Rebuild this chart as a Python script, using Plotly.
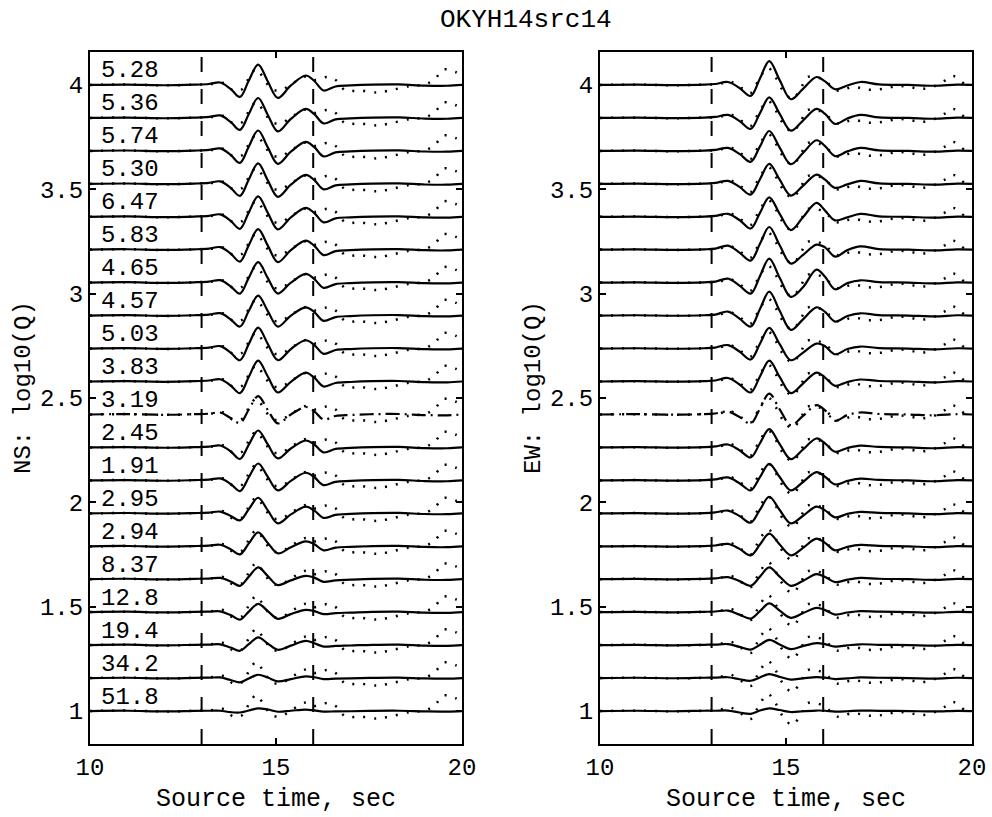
import plotly.graph_objects as go

# ---------------- data ----------------
LOGQ = [4.000, 3.842, 3.684, 3.526, 3.368, 3.211, 3.053, 2.895, 2.737, 2.579,
        2.421, 2.263, 2.105, 1.947, 1.789, 1.632, 1.474, 1.316, 1.158, 1.000]

MISFIT_NS = ["5.28", "5.36", "5.74", "5.30", "6.47", "5.83", "4.65", "4.57", "5.03", "3.83",
             "3.19", "2.45", "1.91", "2.95", "2.94", "8.37", "12.8", "19.4", "34.2", "51.8"]

BEST_ROW = 10          # trace drawn dash-dot
WINDOW = [13, 16]      # time window markers, sec

XTICKS = [10, 15, 20]
YTICKS = [1, 1.5, 2, 2.5, 3, 3.5, 4]
YTICKTEXT = ["1", "1.5", "2", "2.5", "3", "3.5", "4"]

# synthetic waveforms (amplitude, arbitrary units) at key times
T_SYN_NS = [10.0, 11.0, 12.0, 12.8, 13.2, 13.5, 13.78, 14.03, 14.27, 14.52, 14.78, 15.05,
            15.4, 15.8, 16.03, 16.28, 16.6, 17.0, 17.6, 18.3, 19.0, 19.6, 20.0]
SYN_NS = [
    [0, 0.4, -0.3, 0.3, 1.0, 2.5, -4.0, -12.0, 4.5, 20.5, 3.5, -13.0, -0.5, 9.5, 4.0, -5.5, -1.5, -0.5, 0.3, 0.5, -0.6, -0.8, 0.0],
    [0, 0.4, -0.3, 0.3, 1.0, 2.5, -4.0, -12.0, 4.0, 20.0, 3.0, -13.5, -1.0, 9.0, 3.8, -5.5, -1.5, -0.5, 0.3, 0.5, -0.6, -0.8, 0.0],
    [0, 0.4, -0.3, 0.3, 1.0, 2.5, -4.0, -12.0, 4.5, 20.5, 3.5, -13.0, -0.8, 9.0, 3.8, -5.5, -1.5, -0.5, 0.3, 0.5, -0.6, -0.8, 0.0],
    [0, 0.4, -0.3, 0.3, 1.0, 2.5, -4.0, -12.0, 4.5, 20.5, 3.5, -13.0, -0.8, 9.0, 3.8, -5.5, -1.5, -0.5, 0.3, 0.5, -0.6, -0.8, 0.0],
    [0, 0.4, -0.3, 0.3, 1.0, 2.5, -4.0, -12.0, 4.5, 20.5, 4.0, -12.5, -0.5, 9.0, 3.8, -5.5, -1.5, -0.5, 0.3, 0.5, -0.6, -0.8, 0.0],
    [0, 0.4, -0.3, 0.3, 1.0, 2.5, -4.0, -12.0, 4.5, 20.5, 4.0, -12.5, -0.5, 9.0, 3.8, -5.5, -1.5, -0.5, 0.3, 0.5, -0.6, -0.8, 0.0],
    [0, 0.4, -0.3, 0.3, 1.0, 2.4, -3.8, -11.0, 5.0, 20.5, 4.5, -11.0, 0.0, 8.7, 3.6, -5.3, -1.5, -0.5, 0.3, 0.5, -0.6, -0.8, 0.0],
    [0, 0.4, -0.3, 0.3, 1.0, 2.4, -3.8, -11.0, 4.8, 20.0, 4.5, -11.0, 0.0, 8.3, 3.5, -5.3, -1.5, -0.5, 0.3, 0.5, -0.6, -0.8, 0.0],
    [0, 0.4, -0.3, 0.3, 1.0, 2.4, -4.0, -11.7, 4.7, 21.0, 4.6, -11.7, -0.5, 8.3, 3.5, -5.3, -1.5, -0.5, 0.3, 0.5, -0.6, -0.8, 0.0],
    [0, 0.4, -0.3, 0.3, 1.0, 2.3, -4.0, -11.7, 4.7, 21.0, 5.0, -11.0, -0.3, 9.0, 3.8, -5.0, -1.5, -0.5, 0.3, 0.5, -0.6, -0.8, 0.0],
    [0, 0.4, -0.3, 0.3, 0.8, 2.0, -3.5, -8.5, 5.0, 18.5, 4.5, -9.0, 0.0, 7.5, 3.2, -5.0, -1.5, -0.5, 0.3, 0.5, -0.6, -0.8, 0.0],
    [0, 0.4, -0.3, 0.3, 0.8, 2.0, -3.8, -11.5, 2.8, 17.0, 3.0, -11.0, -1.0, 7.0, 3.0, -5.0, -1.5, -0.5, 0.3, 0.5, -0.6, -0.8, 0.0],
    [0, 0.4, -0.3, 0.3, 0.8, 2.0, -3.5, -10.7, 3.2, 17.0, 3.5, -10.0, -0.5, 7.7, 3.2, -4.7, -1.4, -0.5, 0.3, 0.5, -0.6, -0.8, 0.0],
    [0, 0.4, -0.3, 0.3, 0.8, 1.8, -2.5, -7.0, 4.3, 15.7, 3.0, -10.0, -1.0, 6.7, 2.8, -4.5, -1.4, -0.5, 0.3, 0.5, -0.6, -0.8, 0.0],
    [0, 0.4, -0.3, 0.3, 0.8, 1.6, -2.8, -8.0, 3.0, 14.0, 3.5, -7.0, -0.8, 5.0, 2.2, -4.0, -1.3, -0.5, 0.3, 0.5, -0.6, -0.8, 0.0],
    [0, 0.4, -0.3, 0.3, 0.6, 1.2, -2.3, -6.7, 2.5, 11.7, 3.0, -6.0, -1.2, 3.3, 1.5, -2.7, -1.2, -0.5, 0.3, 0.5, -0.6, -0.8, 0.0],
    [0, 0.4, -0.3, 0.3, 0.5, 0.8, -3.0, -7.5, 0.5, 8.3, 1.0, -6.7, -2.0, 2.3, 1.0, -2.0, -1.0, -0.5, 0.3, 0.5, -0.6, -0.8, 0.0],
    [0, 0.4, -0.3, 0.3, 0.5, 0.8, -2.5, -5.7, 1.0, 7.7, 1.5, -4.7, -0.5, 4.3, 1.8, -1.5, -0.8, -0.4, 0.3, 0.5, -0.5, -0.7, 0.0],
    [0, 0.3, -0.3, 0.2, 0.4, 0.6, -2.0, -4.3, -0.5, 3.3, 0.5, -3.3, -1.0, 1.7, 0.8, -1.0, -0.6, -0.3, 0.2, 0.4, -0.4, -0.6, 0.0],
    [0, 0.3, -0.3, 0.2, 0.3, 0.3, -1.2, -1.5, 0.5, 2.7, 1.5, -0.7, 0.3, 1.5, 0.6, -0.5, -0.4, -0.2, 0.2, 0.3, -0.3, -0.5, 0.0],
]

T_SYN_EW = [10.0, 11.0, 12.0, 12.8, 13.1, 13.44, 13.75, 14.05, 14.3, 14.55, 14.83, 15.13,
            15.45, 15.82, 16.05, 16.32, 16.65, 17.0, 17.5, 18.3, 19.0, 19.6, 20.0]
SYN_EW = [
    [0, 0.3, -0.2, 0.3, 1.0, 3.0, -3.0, -11.0, 6.5, 24.0, 4.9, -14.3, -4.2, 8.0, 3.6, -4.3, -0.5, 3.0, 0.5, 0.0, -0.8, 0.3, 0.0],
    [0, 0.3, -0.2, 0.3, 1.0, 3.0, -3.0, -11.0, 4.8, 20.7, 4.0, -12.7, -2.9, 9.0, 4.0, -6.0, -0.5, 3.0, 0.5, 0.0, -0.8, 0.3, 0.0],
    [0, 0.3, -0.2, 0.3, 1.0, 3.0, -3.0, -11.0, 4.5, 20.0, 3.3, -13.3, -2.3, 10.7, 4.8, -5.3, -0.5, 3.0, 0.5, 0.0, -0.8, 0.3, 0.0],
    [0, 0.3, -0.2, 0.3, 1.0, 3.0, -3.0, -10.7, 4.7, 20.0, 4.2, -11.7, -2.2, 9.3, 4.2, -4.0, -0.5, 3.0, 0.5, 0.0, -0.8, 0.3, 0.0],
    [0, 0.3, -0.2, 0.3, 1.0, 3.0, -3.2, -11.7, 4.0, 19.5, 3.0, -13.3, -0.7, 14.0, 6.3, -3.5, -0.5, 3.0, 0.5, 0.0, -0.8, 0.3, 0.0],
    [0, 0.3, -0.2, 0.3, 1.0, 4.0, -3.0, -11.0, 5.8, 22.7, 4.4, -14.0, -5.5, 5.0, 2.3, -7.0, -0.5, 3.3, 0.5, 0.0, -0.8, 0.3, 0.0],
    [0, 0.3, -0.2, 0.3, 1.0, 4.0, -3.0, -11.0, 6.5, 24.0, 4.9, -14.3, -5.0, 13.0, 5.8, -6.7, -0.5, 2.3, 0.5, 0.0, -0.8, 0.3, 0.0],
    [0, 0.3, -0.2, 0.3, 1.0, 4.0, -3.0, -11.0, 6.5, 24.0, 4.9, -14.3, -4.0, 8.3, 3.7, -6.0, -0.5, 2.3, 0.5, 0.0, -0.8, 0.3, 0.0],
    [0, 0.3, -0.2, 0.3, 1.0, 3.5, -3.0, -11.0, 4.8, 20.7, 4.5, -11.7, -4.3, 5.0, 2.3, -5.7, -0.5, 2.0, 0.5, 0.0, -0.8, 0.3, 0.0],
    [0, 0.3, -0.2, 0.3, 1.0, 3.5, -3.0, -11.0, 5.0, 21.0, 4.6, -11.7, -2.3, 9.0, 4.0, -4.3, -0.5, 2.0, 0.5, 0.0, -0.8, 0.3, 0.0],
    [0, 0.3, -0.2, 0.3, 1.0, 3.0, -2.5, -9.0, 6.0, 21.0, 5.2, -10.7, -1.7, 9.3, 4.2, -6.3, -0.5, 2.0, 0.5, 0.0, -0.8, 0.3, 0.0],
    [0, 0.3, -0.2, 0.3, 1.0, 3.0, -2.8, -10.0, 4.2, 18.3, 3.3, -11.7, -2.3, 9.0, 4.0, -4.3, -0.5, 1.8, 0.5, 0.0, -0.8, 0.3, 0.0],
    [0, 0.3, -0.2, 0.3, 1.0, 3.0, -2.8, -10.0, 3.4, 16.7, 3.4, -10.0, -1.8, 8.3, 3.7, -4.0, -0.5, 1.8, 0.5, 0.0, -0.8, 0.3, 0.0],
    [0, 0.3, -0.2, 0.3, 1.0, 2.8, -2.6, -9.3, 3.7, 16.7, 3.4, -10.0, -2.6, 6.7, 3.0, -4.0, -0.5, 1.5, 0.5, 0.0, -0.8, 0.3, 0.0],
    [0, 0.3, -0.2, 0.3, 0.9, 2.5, -2.5, -9.0, 1.9, 12.7, 1.9, -9.0, -1.7, 7.7, 3.5, -4.0, -0.5, 1.5, 0.5, 0.0, -0.8, 0.3, 0.0],
    [0, 0.3, -0.2, 0.3, 0.8, 2.0, -2.0, -6.7, 2.5, 11.7, 2.5, -6.7, -1.8, 5.0, 2.2, -3.0, -0.5, 1.2, 0.4, 0.0, -0.7, 0.3, 0.0],
    [0, 0.3, -0.2, 0.3, 0.6, 1.5, -2.5, -6.5, 1.0, 8.7, 1.5, -5.7, -1.2, 4.3, 2.0, -2.5, -0.4, 1.0, 0.4, 0.0, -0.6, 0.3, 0.0],
    [0, 0.3, -0.2, 0.3, 0.5, 1.0, -1.8, -4.5, 0.3, 5.3, 0.7, -4.0, -1.0, 2.0, 1.0, -1.5, -0.3, 0.8, 0.3, 0.0, -0.5, 0.3, 0.0],
    [0, 0.3, -0.2, 0.3, 0.4, 0.8, -1.2, -2.7, 0.6, 4.0, 1.2, -1.5, -0.3, 1.0, 0.5, -1.0, -0.3, 0.6, 0.3, 0.0, -0.5, 0.3, 0.0],
    [0, 0.3, -0.2, 0.3, 0.3, 0.5, -1.5, -2.8, 0.5, 2.7, 1.0, -1.0, -0.2, 0.5, 0.3, -0.5, -0.2, 0.4, 0.2, 0.0, -0.4, 0.2, 0.0],
]

# observed waveforms (same for every row of a panel)
T_OBS_NS = [10.0, 11.0, 12.0, 12.8, 13.3, 13.6, 13.85, 14.1, 14.3, 14.47, 14.63, 14.9, 15.15, 15.4,
            15.8, 16.05, 16.38, 16.62, 16.87, 17.25, 17.7, 18.0, 18.6, 19.0, 19.27, 19.5, 19.82, 20.0]
OBS_NS = [0, 0.4, -0.4, 0.3, 1.0, 2.0, -5.5, -4.0, 9.0, 16.0, 9.0, -4.5, -5.0, 0.5,
          8.5, 5.0, 8.0, 4.5, -5.7, -5.5, -7.5, -6.0, -1.0, 0.5, 6.0, 15.5, 13.0, 9.0]

T_OBS_EW = [10.0, 11.0, 12.0, 12.8, 13.2, 13.5, 13.8, 14.05, 14.3, 14.52, 14.72, 14.92, 15.17, 15.4,
            15.57, 15.84, 16.05, 16.4, 16.8, 17.2, 17.6, 18.0, 18.35, 18.65, 19.0, 19.27, 19.5, 19.81, 20.0]
OBS_EW = [0, 0.3, -0.3, 0.3, 1.0, 3.5, -3.0, -8.0, 7.7, 17.0, 7.7, -5.5, -14.0, -3.0,
          7.7, 7.7, 4.0, -5.7, -2.0, -4.7, -4.0, -1.0, -2.3, -4.0, -1.0, 4.3, 9.0, 1.0, -0.5]

# ---------------- styling ----------------
GAIN = 1 / 209.3          # y-axis units per amplitude unit
YRANGE = [0.842, 4.158]
XRANGE = [10, 20]
FONT = "Liberation Mono"
W, H = 992, 817

fig = go.Figure()

panels = [
    dict(xa="x", ya="y", tsyn=T_SYN_NS, syn=SYN_NS, tobs=T_OBS_NS, obs=OBS_NS),
    dict(xa="x2", ya="y2", tsyn=T_SYN_EW, syn=SYN_EW, tobs=T_OBS_EW, obs=OBS_EW),
]

for p in panels:
    for wx in WINDOW:
        fig.add_trace(go.Scatter(x=[wx, wx], y=[YRANGE[0], YRANGE[1]], mode="lines",
                                 line=dict(color="black", width=2, dash="15px,17px"),
                                 xaxis=p["xa"], yaxis=p["ya"], showlegend=False, hoverinfo="skip"))
    for i, q in enumerate(LOGQ):
        fig.add_trace(go.Scatter(x=p["tobs"], y=[q + a * GAIN for a in p["obs"]], mode="lines",
                                 line=dict(color="black", width=2.5, dash="2px,9px", shape="spline", smoothing=1),
                                 xaxis=p["xa"], yaxis=p["ya"], showlegend=False, hoverinfo="skip"))
        dash = "14px,5px,2px,5px" if i == BEST_ROW else "solid"
        fig.add_trace(go.Scatter(x=p["tsyn"], y=[q + a * GAIN for a in p["syn"][i]], mode="lines",
                                 line=dict(color="black", width=2.2, dash=dash, shape="spline", smoothing=1),
                                 xaxis=p["xa"], yaxis=p["ya"], showlegend=False, hoverinfo="skip"))

annotations = []
for q, m in zip(LOGQ, MISFIT_NS):
    annotations.append(dict(x=10.24, y=q, xref="x", yref="y", text=m, showarrow=False,
                            xanchor="left", yanchor="middle", yshift=14,
                            font=dict(family=FONT, size=24, color="black")))

def paper(px, py):
    return px / W, 1 - py / H

tx, ty = paper(526, 20)
annotations.append(dict(x=tx, y=ty, xref="paper", yref="paper", text="OKYH14src14", showarrow=False,
                        xanchor="center", yanchor="middle", font=dict(family=FONT, size=26, color="black")))
for cx in (276, 786):
    ax_, ay_ = paper(cx, 799)
    annotations.append(dict(x=ax_, y=ay_, xref="paper", yref="paper", text="Source time, sec",
                            showarrow=False, xanchor="center", yanchor="middle",
                            font=dict(family=FONT, size=25, color="black")))
for cx, txt in ((23, "NS: log10(Q)"), (533, "EW: log10(Q)")):
    ax_, ay_ = paper(cx, 388)
    annotations.append(dict(x=ax_, y=ay_, xref="paper", yref="paper", text=txt, textangle=-90,
                            showarrow=False, xanchor="center", yanchor="middle",
                            font=dict(family=FONT, size=24, color="black")))

axis_common = dict(showline=True, linecolor="black", linewidth=2, mirror="ticks",
                   ticks="inside", ticklen=6, tickwidth=2, tickcolor="black",
                   showgrid=False, zeroline=False, automargin=False,
                   tickfont=dict(family=FONT, size=24, color="black"))

xd1 = [90 / W, 462 / W]
xd2 = [600 / W, 972 / W]
yd = [1 - 744 / H, 1 - 52 / H]

fig.update_layout(
    template="none",
    width=W, height=H, margin=dict(l=0, r=0, t=0, b=0, pad=0),
    paper_bgcolor="white", plot_bgcolor="white", showlegend=False,
    xaxis=dict(domain=xd1, range=XRANGE, tickvals=XTICKS, anchor="y", **axis_common),
    yaxis=dict(domain=yd, range=YRANGE, tickvals=YTICKS, ticktext=YTICKTEXT, anchor="x", **axis_common),
    xaxis2=dict(domain=xd2, range=XRANGE, tickvals=XTICKS, anchor="y2", **axis_common),
    yaxis2=dict(domain=yd, range=YRANGE, tickvals=YTICKS, ticktext=YTICKTEXT, anchor="x2", **axis_common),
    annotations=annotations,
)

fig.write_html("out.html", config={"displayModeBar": False},
               post_script="document.body.style.margin='0';")
